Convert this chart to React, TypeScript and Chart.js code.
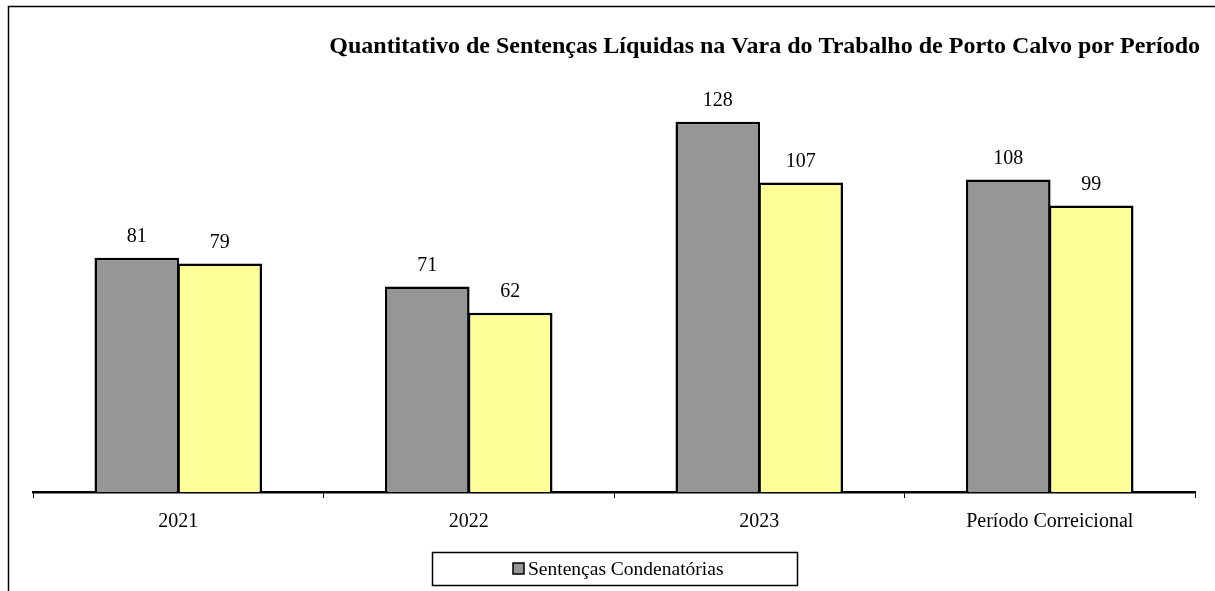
import React, { useEffect, useRef } from "react";
import { Chart, registerables } from "chart.js";

Chart.register(...registerables);

const TITLE = "Quantitativo de Sentenças Líquidas na Vara do Trabalho de Porto Calvo por Período";
const categories = ["2021", "2022", "2023", "Período Correicional"];
const seriesNames = ["Sentenças Condenatórias", "Sentenças Líquidas"];
const condenatorias = [81, 71, 128, 108];
const liquidas = [79, 62, 107, 99];

const GRAY = "#969696";
const YELLOW = "#FFFF99";
const SERIF = "'Liberation Serif', 'Times New Roman', serif";

const decorPlugin = {
  id: "decor",
  afterDatasetsDraw(chart: any) {
    const ctx = chart.ctx;
    ctx.save();
    ctx.fillStyle = "#000";
    ctx.font = `20px ${SERIF}`;
    ctx.textAlign = "center";
    ctx.textBaseline = "bottom";
    chart.data.datasets.forEach((ds: any, di: number) => {
      const meta = chart.getDatasetMeta(di);
      meta.data.forEach((el: any, i: number) => {
        ctx.fillText(String(ds.data[i]), el.x, el.y - 11);
      });
    });
    ctx.restore();
  },
  afterDraw(chart: any) {
    const ctx = chart.ctx;
    ctx.save();
    ctx.strokeStyle = "#000";
    ctx.lineWidth = 1.5;
    ctx.beginPath();
    ctx.moveTo(8.5, 591);
    ctx.lineTo(8.5, 6.5);
    ctx.lineTo(1215, 6.5);
    ctx.stroke();
    ctx.fillStyle = "#000";
    ctx.font = `bold 24px ${SERIF}`;
    ctx.textAlign = "right";
    ctx.textBaseline = "middle";
    ctx.fillText(TITLE, 1200, 47);
    ctx.lineWidth = 1.5;
    ctx.strokeRect(432.5, 552.5, 365, 33);
    ctx.fillStyle = GRAY;
    ctx.fillRect(513, 563, 11, 11);
    ctx.strokeRect(513, 563, 11, 11);
    ctx.fillStyle = "#000";
    ctx.font = `19.5px ${SERIF}`;
    ctx.textAlign = "left";
    ctx.textBaseline = "middle";
    ctx.fillText(seriesNames[0], 528, 570);
    ctx.restore();
  },
};

export default function App() {
  const ref = useRef<HTMLCanvasElement>(null);
  useEffect(() => {
    if (!ref.current) return;
    const chart = new Chart(ref.current, {
      type: "bar",
      data: {
        labels: categories,
        datasets: [
          {
            label: seriesNames[0],
            data: condenatorias,
            backgroundColor: GRAY,
            borderColor: "#000",
            borderWidth: 2.5,
            borderSkipped: "bottom",
          },
          {
            label: seriesNames[1],
            data: liquidas,
            backgroundColor: YELLOW,
            borderColor: "#000",
            borderWidth: 2.5,
            borderSkipped: "bottom",
          },
        ],
      },
      options: {
        animation: false,
        responsive: false,
        maintainAspectRatio: false,
        layout: { padding: { left: 33, right: 20, top: 87, bottom: 45 } },
        plugins: {
          legend: { display: false },
          title: { display: false },
          tooltip: { enabled: false },
        },
        datasets: { bar: { categoryPercentage: 0.571, barPercentage: 1.02 } },
        scales: {
          x: {
            grid: {
              display: true,
              drawOnChartArea: false,
              drawTicks: true,
              tickLength: 6,
              color: "#000",
              lineWidth: 1,
              offset: true,
            },
            border: { display: true, color: "#000", width: 2.5 },
            ticks: {
              color: "#000",
              font: { family: SERIF, size: 20 },
              padding: 12,
              maxRotation: 0,
            },
          },
          y: {
            display: false,
            min: 0,
            max: 140,
          },
        },
      },
      plugins: [decorPlugin],
    });
    return () => chart.destroy();
  }, []);
  return (
    <div style={{ position: "fixed", left: 0, top: 0, width: 1215, height: 591, background: "#fff" }}>
      <canvas ref={ref} width={1215} height={591} style={{ display: "block" }} />
    </div>
  );
}
